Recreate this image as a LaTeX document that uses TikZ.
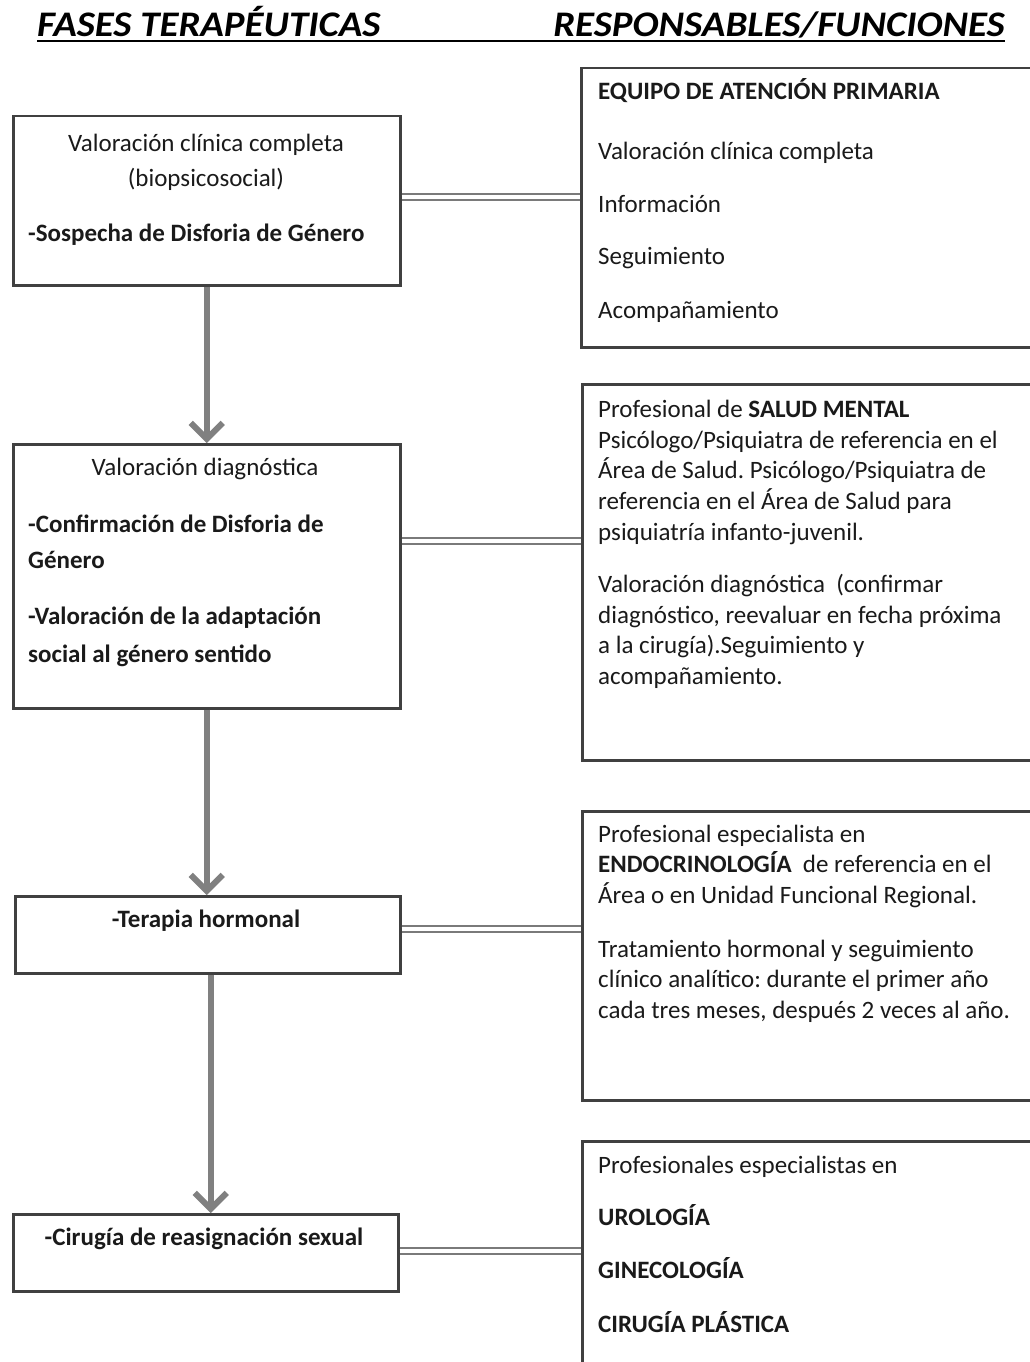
\documentclass[tikz,border=0pt]{standalone}
\usepackage{fontspec}
\setmainfont{Carlito}
\newfontfamily\hdrfont[FakeStretch=1.08]{Carlito}
\usetikzlibrary{arrows.meta}
\frenchspacing
\definecolor{boxline}{HTML}{404040}
\definecolor{arrowgray}{HTML}{808080}
\definecolor{conngray}{HTML}{7A7A7A}
\definecolor{textc}{HTML}{1A1A1A}
\tikzset{
  lbox/.style={draw=boxline, line width=2.5pt, fill=white, rectangle, inner sep=0pt, anchor=north west},
  rbox/.style={draw=boxline, line width=2.5pt, fill=white, rectangle, inner sep=0pt, anchor=north west},
  txt/.style={inner sep=0pt, anchor=base west, text=textc, font=\fontsize{25}{30.7}\selectfont\frenchspacing},
  ctxt/.style={txt, anchor=base},
  hdr/.style={inner sep=0pt, text=black, font=\hdrfont\bfseries\itshape\fontsize{36}{40}\selectfont},
  flow/.style={draw=arrowgray, line width=5.5pt, -{Straight Barb[length=16pt,width=32pt,line width=6pt]}},
  link/.style={draw=conngray, line width=2pt, double=white, double distance=4pt},
}
\begin{document}
\begin{tikzpicture}[x=1pt,y=-1pt]
\useasboundingbox (0,0) rectangle (1030,1362);
\fill[white] (0,0) rectangle (1030,1362);
\clip (0,0) rectangle (1030,1362);

% headers
\node[hdr, anchor=base west] (h1) at (37,37) {FASES TERAPÉUTICAS};
\node[hdr, anchor=base east] (h2) at (1005,37) {RESPONSABLES/FUNCIONES};
\coordinate (ul1) at (37,41);
\coordinate (ul2) at (1005,41);
\draw[black, line width=2.5pt] (ul1) -- (ul2);

% left boxes
\node[lbox, minimum width=387pt, minimum height=169pt] (b1) at (12,115) {};
\node[lbox, minimum width=387pt, minimum height=264pt] (b2) at (12,443) {};
\node[lbox, minimum width=385pt, minimum height=77pt] (b3) at (14,895) {};
\node[lbox, minimum width=385pt, minimum height=77pt] (b4) at (12,1213) {};

% right boxes
\node[rbox, minimum width=480pt, minimum height=279pt] (r1) at (580,67) {};
\node[rbox, minimum width=480pt, minimum height=376pt] (r2) at (581,383) {};
\node[rbox, minimum width=480pt, minimum height=289pt] (r3) at (581,810) {};
\node[rbox, minimum width=480pt, minimum height=300pt] (r4) at (581,1140) {};

% arrows
\draw[flow] (b1.south) -- (b2.north);
\draw[flow] (b2.south) -- (b2.south |- b3.north);
\draw[flow] ([xshift=3pt]b3.south) -- ([xshift=3pt]b3.south |- b4.north);

% double connectors
\coordinate (c1) at (0,197);
\coordinate (c2) at (0,541);
\coordinate (c3) at (0,929);
\coordinate (c4) at (0,1251);
\draw[link] (b1.east |- c1) -- (r1.west |- c1);
\draw[link] (b2.east |- c2) -- (r2.west |- c2);
\draw[link] (b3.east |- c3) -- (r3.west |- c3);
\draw[link] (b4.east |- c4) -- (r4.west |- c4);

% left texts
\node[ctxt] (b1a) at (206,151) {Valoración clínica completa};
\node[ctxt] (b1b) at (206,186) {(biopsicosocial)};
\node[txt] (b1c) at (28,241) {\textbf{-Sospecha de Disforia de Género}};

\node[ctxt] (b2a) at (205,475) {Valoración diagnóstica};
\node[txt] (b2b) at (28,532) {\textbf{-Confirmación de Disforia de}};
\node[txt] (b2c) at (28,568) {\textbf{Género}};
\node[txt] (b2d) at (28,624) {\textbf{-Valoración de la adaptación}};
\node[txt] (b2e) at (28,662) {\textbf{social al género sentido}};

\node[ctxt] (b3a) at (206,927) {\textbf{-Terapia hormonal}};
\node[ctxt] (b4a) at (204,1245) {\textbf{-Cirugía de reasignación sexual}};

% right texts
\node[txt] (r1a) at (598,100) {\textbf{EQUIPO DE ATENCIÓN PRIMARIA}};
\node[txt] (r1b) at (598,159) {Valoración clínica completa};
\node[txt] (r1c) at (598,212) {Información};
\node[txt] (r1d) at (598,264) {Seguimiento};
\node[txt] (r1e) at (598,318) {Acompañamiento};

\node[txt] (r2a) at (598,417) {Profesional de \textbf{SALUD MENTAL}};
\node[txt] (r2b) at (598,448) {Psicólogo/Psiquiatra de referencia en el};
\node[txt] (r2c) at (598,478) {Área de Salud. Psicólogo/Psiquiatra de};
\node[txt] (r2d) at (598,509) {referencia en el Área de Salud para};
\node[txt] (r2e) at (598,540) {psiquiatría infanto-juvenil.};
\node[txt] (r2f) at (598,592) {Valoración diagnóstica\ \ (confirmar};
\node[txt] (r2g) at (598,623) {diagnóstico, reevaluar en fecha próxima};
\node[txt] (r2h) at (598,653) {a la cirugía).Seguimiento y};
\node[txt] (r2i) at (598,684) {acompañamiento.};

\node[txt] (r3a) at (598,842) {Profesional especialista en};
\node[txt] (r3b) at (598,872) {\textbf{ENDOCRINOLOGÍA}\ \ de referencia en el};
\node[txt] (r3c) at (598,903) {Área o en Unidad Funcional Regional.};
\node[txt] (r3d) at (598,957) {Tratamiento hormonal y seguimiento};
\node[txt] (r3e) at (598,987) {clínico analítico: durante el primer año};
\node[txt] (r3f) at (598,1018) {cada tres meses, después 2 veces al año.};

\node[txt] (r4a) at (598,1173) {Profesionales especialistas en};
\node[txt] (r4b) at (598,1225) {\textbf{UROLOGÍA}};
\node[txt] (r4c) at (598,1278) {\textbf{GINECOLOGÍA}};
\node[txt] (r4d) at (598,1332) {\textbf{CIRUGÍA PLÁSTICA}};
\end{tikzpicture}
\end{document}
